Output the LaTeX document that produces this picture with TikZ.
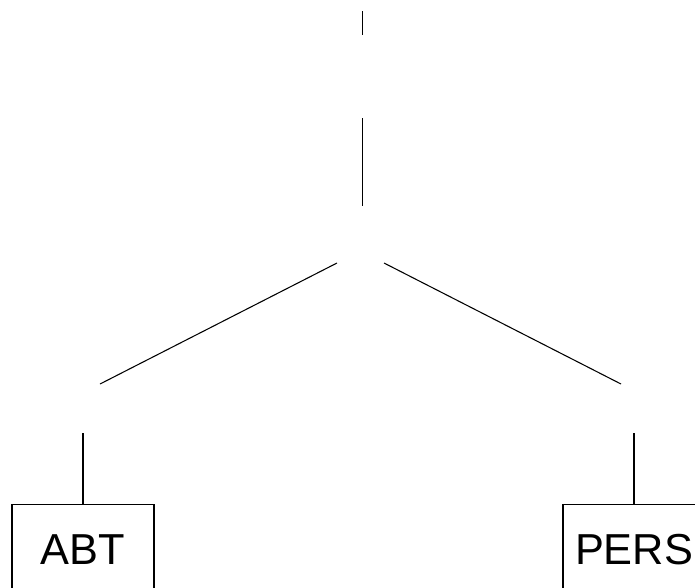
\documentclass[tikz,border=0pt]{standalone}
\usepackage{fontspec}
\setmainfont{Liberation Sans}
\tikzset{
  leafbox/.style={draw, line width=0.8pt, minimum width=142*0.75pt, minimum height=90*0.75pt,
    inner sep=0pt, font=\fontsize{32.5}{38}\selectfont},
}
\begin{document}
\begin{tikzpicture}[x=0.75pt, y=-0.75pt, line width=0.8pt]
\useasboundingbox (0,0) rectangle (695,587);
\clip (0,0) rectangle (695,587);
\coordinate (roottop) at (362.5,11);
\coordinate (rootbot) at (362.5,35);
\coordinate (midtop) at (362.5,118);
\coordinate (midbot) at (362.5,206);
\coordinate (forkl) at (337,263);
\coordinate (forkr) at (384,263);
\coordinate (leftend) at (100,384);
\coordinate (rightend) at (621,384);
\coordinate (lefttop) at (83,433);
\coordinate (righttop) at (634,433);
\node[leafbox, anchor=north] (abt) at (83,504) {ABT};
\node[leafbox, anchor=north] (pers) at (634,504) {PERS};
\draw (roottop) -- (rootbot);
\draw (midtop) -- (midbot);
\draw (forkl) -- (leftend);
\draw (forkr) -- (rightend);
\draw (lefttop) -- (abt.north);
\draw (righttop) -- (pers.north);
\end{tikzpicture}
\end{document}
